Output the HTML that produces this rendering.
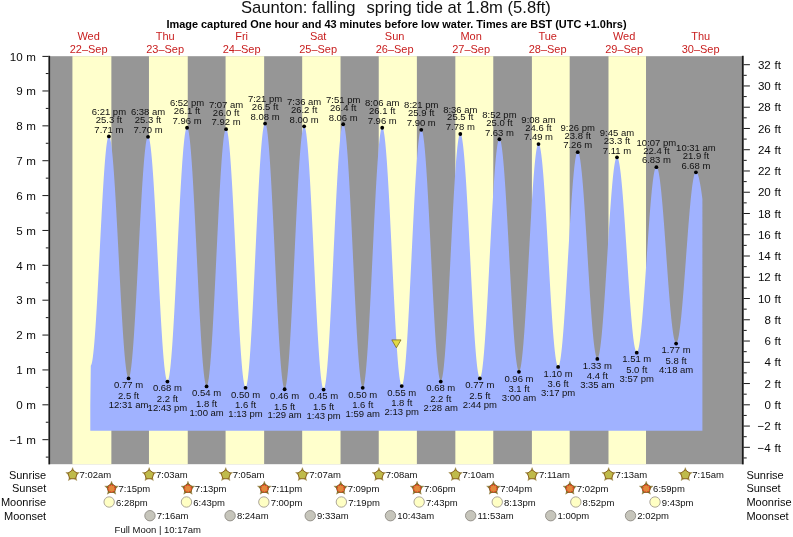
<!DOCTYPE html>
<html><head><meta charset="utf-8"><title>Saunton tide times</title>
<style>
html,body{margin:0;padding:0;background:#fff;}
body{width:793px;height:537px;overflow:hidden;font-family:"Liberation Sans",sans-serif;}
svg{display:block;opacity:0.999;will-change:transform;}
text{font-family:"Liberation Sans",sans-serif;fill:#0a0a0a;}
.ax{font-size:11.6px;word-spacing:0.4px;}
.rl{font-size:11px;}
.day{font-size:11px;fill:#c81e1e;}
.title{font-size:16.6px;fill:#111;}
.sub{font-size:10.95px;font-weight:bold;fill:#000;}
.lb{font-size:9.5px;fill:#111;}
</style></head><body>
<svg width="793" height="537" viewBox="0 0 793 537">
<rect x="50.0" y="56.2" width="692.0" height="408.0" fill="#969696"/>
<rect x="72.42" y="56.2" width="38.94" height="408.0" fill="#ffffcc"/>
<rect x="148.97" y="56.2" width="38.78" height="408.0" fill="#ffffcc"/>
<rect x="225.58" y="56.2" width="38.57" height="408.0" fill="#ffffcc"/>
<rect x="302.18" y="56.2" width="38.36" height="408.0" fill="#ffffcc"/>
<rect x="378.74" y="56.2" width="38.14" height="408.0" fill="#ffffcc"/>
<rect x="455.34" y="56.2" width="37.93" height="408.0" fill="#ffffcc"/>
<rect x="531.90" y="56.2" width="37.77" height="408.0" fill="#ffffcc"/>
<rect x="608.50" y="56.2" width="37.51" height="408.0" fill="#ffffcc"/>
<path d="M90.3,430.8 L90.30,404.80 L90.80,365.65 L91.30,364.83 L91.80,363.17 L92.30,360.69 L92.80,357.40 L93.30,353.33 L93.80,348.50 L94.30,342.96 L94.80,336.75 L95.30,329.90 L95.80,322.47 L96.30,314.52 L96.80,306.10 L97.30,297.27 L97.80,288.11 L98.30,278.66 L98.80,269.02 L99.30,259.24 L99.80,249.40 L100.30,239.57 L100.80,229.83 L101.30,220.24 L101.80,210.87 L102.30,201.79 L102.80,193.08 L103.30,184.79 L103.80,176.99 L104.30,169.72 L104.80,163.06 L105.30,157.04 L105.80,151.70 L106.30,147.10 L106.80,143.25 L107.30,140.20 L107.80,137.95 L108.30,136.54 L108.80,135.97 L109.30,136.21 L109.80,137.23 L110.30,139.01 L110.80,141.54 L111.30,144.81 L111.80,148.80 L112.30,153.48 L112.80,158.81 L113.30,164.78 L113.80,171.33 L114.30,178.43 L114.80,186.03 L115.30,194.08 L115.80,202.53 L116.30,211.33 L116.80,220.42 L117.30,229.75 L117.80,239.25 L118.30,248.86 L118.80,258.52 L119.30,268.18 L119.80,277.76 L120.30,287.21 L120.80,296.46 L121.30,305.47 L121.80,314.16 L122.30,322.49 L122.80,330.40 L123.30,337.84 L123.80,344.77 L124.30,351.13 L124.80,356.89 L125.30,362.02 L125.80,366.48 L126.30,370.23 L126.80,373.26 L127.30,375.56 L127.80,377.09 L128.30,377.86 L128.80,377.85 L129.30,377.06 L129.80,375.50 L130.30,373.16 L130.80,370.07 L131.30,366.25 L131.80,361.73 L132.30,356.52 L132.80,350.67 L133.30,344.21 L133.80,337.19 L134.30,329.65 L134.80,321.63 L135.30,313.20 L135.80,304.41 L136.30,295.31 L136.80,285.96 L137.30,276.42 L137.80,266.76 L138.30,257.03 L138.80,247.31 L139.30,237.65 L139.80,228.12 L140.30,218.77 L140.80,209.68 L141.30,200.89 L141.80,192.46 L142.30,184.46 L142.80,176.93 L143.30,169.91 L143.80,163.47 L144.30,157.63 L144.80,152.43 L145.30,147.92 L145.80,144.11 L146.30,141.04 L146.80,138.72 L147.30,137.17 L147.80,136.39 L148.30,136.41 L148.80,137.22 L149.30,138.83 L149.80,141.22 L150.30,144.39 L150.80,148.30 L151.30,152.94 L151.80,158.27 L152.30,164.27 L152.80,170.88 L153.30,178.06 L153.80,185.78 L154.30,193.97 L154.80,202.59 L155.30,211.58 L155.80,220.87 L156.30,230.42 L156.80,240.15 L157.30,250.00 L157.80,259.90 L158.30,269.80 L158.80,279.63 L159.30,289.32 L159.80,298.81 L160.30,308.03 L160.80,316.93 L161.30,325.45 L161.80,333.54 L162.30,341.13 L162.80,348.18 L163.30,354.64 L163.80,360.48 L164.30,365.64 L164.80,370.11 L165.30,373.84 L165.80,376.82 L166.30,379.03 L166.80,380.44 L167.30,381.06 L167.80,380.87 L168.30,379.87 L168.80,378.06 L169.30,375.46 L169.80,372.08 L170.30,367.94 L170.80,363.07 L171.30,357.50 L171.80,351.27 L172.30,344.42 L172.80,336.98 L173.30,329.02 L173.80,320.57 L174.30,311.70 L174.80,302.46 L175.30,292.91 L175.80,283.11 L176.30,273.13 L176.80,263.02 L177.30,252.86 L177.80,242.70 L178.30,232.62 L178.80,222.68 L179.30,212.94 L179.80,203.46 L180.30,194.31 L180.80,185.54 L181.30,177.22 L181.80,169.38 L182.30,162.09 L182.80,155.40 L183.30,149.33 L183.80,143.94 L184.30,139.25 L184.80,135.31 L185.30,132.12 L185.80,129.72 L186.30,128.12 L186.80,127.33 L187.30,127.35 L187.80,128.20 L188.30,129.89 L188.80,132.39 L189.30,135.69 L189.80,139.77 L190.30,144.61 L190.80,150.17 L191.30,156.41 L191.80,163.31 L192.30,170.80 L192.80,178.85 L193.30,187.40 L193.80,196.39 L194.30,205.78 L194.80,215.49 L195.30,225.47 L195.80,235.65 L196.30,245.96 L196.80,256.34 L197.30,266.73 L197.80,277.05 L198.30,287.23 L198.80,297.22 L199.30,306.95 L199.80,316.35 L200.30,325.37 L200.80,333.94 L201.30,342.01 L201.80,349.54 L202.30,356.46 L202.80,362.74 L203.30,368.33 L203.80,373.21 L204.30,377.33 L204.80,380.67 L205.30,383.21 L205.80,384.94 L206.30,385.83 L206.80,385.89 L207.30,385.12 L207.80,383.52 L208.30,381.10 L208.80,377.88 L209.30,373.87 L209.80,369.11 L210.30,363.63 L210.80,357.45 L211.30,350.62 L211.80,343.19 L212.30,335.20 L212.80,326.71 L213.30,317.76 L213.80,308.43 L214.30,298.76 L214.80,288.82 L215.30,278.68 L215.80,268.40 L216.30,258.04 L216.80,247.69 L217.30,237.39 L217.80,227.23 L218.30,217.26 L218.80,207.54 L219.30,198.16 L219.80,189.15 L220.30,180.59 L220.80,172.52 L221.30,165.01 L221.80,158.09 L222.30,151.82 L222.80,146.23 L223.30,141.36 L223.80,137.25 L224.30,133.91 L224.80,131.38 L225.30,129.66 L225.80,128.76 L226.30,128.71 L226.80,129.49 L227.30,131.12 L227.80,133.57 L228.30,136.83 L228.80,140.88 L229.30,145.70 L229.80,151.25 L230.30,157.50 L230.80,164.40 L231.30,171.91 L231.80,179.98 L232.30,188.57 L232.80,197.60 L233.30,207.03 L233.80,216.79 L234.30,226.82 L234.80,237.06 L235.30,247.43 L235.80,257.87 L236.30,268.31 L236.80,278.68 L237.30,288.92 L237.80,298.95 L238.30,308.72 L238.80,318.16 L239.30,327.21 L239.80,335.80 L240.30,343.89 L240.80,351.42 L241.30,358.33 L241.80,364.60 L242.30,370.16 L242.80,375.00 L243.30,379.07 L243.80,382.35 L244.30,384.83 L244.80,386.47 L245.30,387.28 L245.80,387.24 L246.30,386.35 L246.80,384.61 L247.30,382.04 L247.80,378.66 L248.30,374.47 L248.80,369.52 L249.30,363.82 L249.80,357.43 L250.30,350.38 L250.80,342.71 L251.30,334.48 L251.80,325.74 L252.30,316.54 L252.80,306.94 L253.30,297.02 L253.80,286.82 L254.30,276.42 L254.80,265.88 L255.30,255.27 L255.80,244.67 L256.30,234.13 L256.80,223.72 L257.30,213.52 L257.80,203.59 L258.30,193.99 L258.80,184.79 L259.30,176.04 L259.80,167.80 L260.30,160.13 L260.80,153.07 L261.30,146.67 L261.80,140.97 L262.30,136.00 L262.80,131.81 L263.30,128.41 L263.80,125.83 L264.30,124.08 L264.80,123.18 L265.30,123.13 L265.80,123.94 L266.30,125.60 L266.80,128.10 L267.30,131.43 L267.80,135.56 L268.30,140.46 L268.80,146.11 L269.30,152.47 L269.80,159.50 L270.30,167.14 L270.80,175.36 L271.30,184.10 L271.80,193.31 L272.30,202.91 L272.80,212.86 L273.30,223.09 L273.80,233.53 L274.30,244.11 L274.80,254.77 L275.30,265.44 L275.80,276.04 L276.30,286.52 L276.80,296.79 L277.30,306.81 L277.80,316.49 L278.30,325.79 L278.80,334.63 L279.30,342.97 L279.80,350.74 L280.30,357.90 L280.80,364.40 L281.30,370.21 L281.80,375.27 L282.30,379.57 L282.80,383.07 L283.30,385.75 L283.80,387.59 L284.30,388.58 L284.80,388.71 L285.30,387.99 L285.80,386.42 L286.30,384.02 L286.80,380.79 L287.30,376.76 L287.80,371.96 L288.30,366.41 L288.80,360.16 L289.30,353.24 L289.80,345.69 L290.30,337.57 L290.80,328.94 L291.30,319.83 L291.80,310.32 L292.30,300.47 L292.80,290.34 L293.30,279.99 L293.80,269.50 L294.30,258.92 L294.80,248.34 L295.30,237.81 L295.80,227.41 L296.30,217.21 L296.80,207.26 L297.30,197.64 L297.80,188.40 L298.30,179.62 L298.80,171.33 L299.30,163.61 L299.80,156.49 L300.30,150.03 L300.80,144.26 L301.30,139.23 L301.80,134.96 L302.30,131.48 L302.80,128.82 L303.30,127.00 L303.80,126.02 L304.30,125.89 L304.80,126.62 L305.30,128.19 L305.80,130.61 L306.30,133.84 L306.80,137.88 L307.30,142.69 L307.80,148.25 L308.30,154.52 L308.80,161.46 L309.30,169.01 L309.80,177.15 L310.30,185.80 L310.80,194.92 L311.30,204.44 L311.80,214.31 L312.30,224.46 L312.80,234.82 L313.30,245.33 L313.80,255.92 L314.30,266.51 L314.80,277.05 L315.30,287.47 L315.80,297.68 L316.30,307.64 L316.80,317.27 L317.30,326.52 L317.80,335.31 L318.30,343.60 L318.80,351.34 L319.30,358.46 L319.80,364.93 L320.30,370.70 L320.80,375.73 L321.30,380.00 L321.80,383.48 L322.30,386.13 L322.80,387.96 L323.30,388.93 L323.80,389.05 L324.30,388.32 L324.80,386.74 L325.30,384.31 L325.80,381.06 L326.30,377.01 L326.80,372.18 L327.30,366.60 L327.80,360.31 L328.30,353.35 L328.80,345.77 L329.30,337.60 L329.80,328.92 L330.30,319.77 L330.80,310.20 L331.30,300.29 L331.80,290.10 L332.30,279.69 L332.80,269.13 L333.30,258.49 L333.80,247.84 L334.30,237.24 L334.80,226.76 L335.30,216.48 L335.80,206.45 L336.30,196.75 L336.80,187.43 L337.30,178.56 L337.80,170.19 L338.30,162.37 L338.80,155.17 L339.30,148.61 L339.80,142.75 L340.30,137.63 L340.80,133.27 L341.30,129.71 L341.80,126.96 L342.30,125.05 L342.80,123.98 L343.30,123.78 L343.80,124.42 L344.30,125.91 L344.80,128.23 L345.30,131.38 L345.80,135.33 L346.30,140.05 L346.80,145.52 L347.30,151.70 L347.80,158.55 L348.30,166.03 L348.80,174.08 L349.30,182.66 L349.80,191.71 L350.30,201.17 L350.80,210.98 L351.30,221.08 L351.80,231.40 L352.30,241.88 L352.80,252.45 L353.30,263.03 L353.80,273.57 L354.30,283.99 L354.80,294.23 L355.30,304.22 L355.80,313.89 L356.30,323.19 L356.80,332.05 L357.30,340.42 L357.80,348.24 L358.30,355.47 L358.80,362.04 L359.30,367.93 L359.80,373.10 L360.30,377.51 L360.80,381.13 L361.30,383.94 L361.80,385.92 L362.30,387.06 L362.80,387.35 L363.30,386.80 L363.80,385.41 L364.30,383.18 L364.80,380.14 L365.30,376.30 L365.80,371.69 L366.30,366.34 L366.80,360.28 L367.30,353.55 L367.80,346.20 L368.30,338.27 L368.80,329.82 L369.30,320.89 L369.80,311.55 L370.30,301.86 L370.80,291.88 L371.30,281.68 L371.80,271.32 L372.30,260.87 L372.80,250.39 L373.30,239.96 L373.80,229.65 L374.30,219.51 L374.80,209.61 L375.30,200.03 L375.80,190.82 L376.30,182.04 L376.80,173.74 L377.30,165.99 L377.80,158.83 L378.30,152.31 L378.80,146.48 L379.30,141.36 L379.80,136.99 L380.30,133.40 L380.80,130.62 L381.30,128.66 L381.80,127.53 L382.30,127.25 L382.80,127.80 L383.30,129.19 L383.80,131.41 L384.30,134.43 L384.80,138.25 L385.30,142.83 L385.80,148.15 L386.30,154.18 L386.80,160.87 L387.30,168.17 L387.80,176.05 L388.30,184.45 L388.80,193.32 L389.30,202.60 L389.80,212.22 L390.30,222.14 L390.80,232.27 L391.30,242.57 L391.80,252.95 L392.30,263.35 L392.80,273.71 L393.30,283.96 L393.80,294.03 L394.30,303.86 L394.80,313.37 L395.30,322.52 L395.80,331.24 L396.30,339.47 L396.80,347.17 L397.30,354.28 L397.80,360.75 L398.30,366.54 L398.80,371.62 L399.30,375.96 L399.80,379.52 L400.30,382.27 L400.80,384.22 L401.30,385.33 L401.80,385.61 L402.30,385.06 L402.80,383.68 L403.30,381.49 L403.80,378.50 L404.30,374.73 L404.80,370.20 L405.30,364.95 L405.80,359.00 L406.30,352.39 L406.80,345.18 L407.30,337.39 L407.80,329.10 L408.30,320.34 L408.80,311.17 L409.30,301.66 L409.80,291.86 L410.30,281.84 L410.80,271.67 L411.30,261.40 L411.80,251.11 L412.30,240.85 L412.80,230.71 L413.30,220.74 L413.80,211.00 L414.30,201.57 L414.80,192.49 L415.30,183.84 L415.80,175.66 L416.30,168.01 L416.80,160.93 L417.30,154.48 L417.80,148.69 L418.30,143.61 L418.80,139.25 L419.30,135.67 L419.80,132.86 L420.30,130.87 L420.80,129.69 L421.30,129.33 L421.80,129.79 L422.30,131.07 L422.80,133.15 L423.30,136.03 L423.80,139.68 L424.30,144.08 L424.80,149.19 L425.30,155.00 L425.80,161.46 L426.30,168.52 L426.80,176.15 L427.30,184.29 L427.80,192.89 L428.30,201.89 L428.80,211.25 L429.30,220.88 L429.80,230.74 L430.30,240.76 L430.80,250.87 L431.30,261.01 L431.80,271.11 L432.30,281.10 L432.80,290.93 L433.30,300.53 L433.80,309.84 L434.30,318.79 L434.80,327.32 L435.30,335.39 L435.80,342.94 L436.30,349.92 L436.80,356.29 L437.30,362.00 L437.80,367.02 L438.30,371.31 L438.80,374.85 L439.30,377.61 L439.80,379.58 L440.30,380.74 L440.80,381.09 L441.30,380.63 L441.80,379.37 L442.30,377.33 L442.80,374.51 L443.30,370.94 L443.80,366.63 L444.30,361.62 L444.80,355.94 L445.30,349.61 L445.80,342.70 L446.30,335.23 L446.80,327.26 L447.30,318.83 L447.80,310.02 L448.30,300.86 L448.80,291.42 L449.30,281.75 L449.80,271.94 L450.30,262.02 L450.80,252.08 L451.30,242.17 L451.80,232.36 L452.30,222.71 L452.80,213.28 L453.30,204.13 L453.80,195.33 L454.30,186.93 L454.80,178.99 L455.30,171.54 L455.80,164.66 L456.30,158.36 L456.80,152.71 L457.30,147.74 L457.80,143.46 L458.30,139.93 L458.80,137.15 L459.30,135.15 L459.80,133.93 L460.30,133.51 L460.80,133.89 L461.30,135.05 L461.80,136.99 L462.30,139.69 L462.80,143.15 L463.30,147.33 L463.80,152.21 L464.30,157.76 L464.80,163.94 L465.30,170.71 L465.80,178.03 L466.30,185.85 L466.80,194.13 L467.30,202.80 L467.80,211.81 L468.30,221.10 L468.80,230.62 L469.30,240.31 L469.80,250.09 L470.30,259.90 L470.80,269.69 L471.30,279.39 L471.80,288.94 L472.30,298.27 L472.80,307.33 L473.30,316.06 L473.80,324.40 L474.30,332.29 L474.80,339.69 L475.30,346.55 L475.80,352.82 L476.30,358.46 L476.80,363.45 L477.30,367.73 L477.80,371.30 L478.30,374.12 L478.80,376.17 L479.30,377.45 L479.80,377.94 L480.30,377.65 L480.80,376.60 L481.30,374.77 L481.80,372.20 L482.30,368.89 L482.80,364.87 L483.30,360.16 L483.80,354.80 L484.30,348.81 L484.80,342.24 L485.30,335.12 L485.80,327.52 L486.30,319.46 L486.80,311.01 L487.30,302.22 L487.80,293.15 L488.30,283.86 L488.80,274.39 L489.30,264.83 L489.80,255.22 L490.30,245.64 L490.80,236.13 L491.30,226.77 L491.80,217.61 L492.30,208.72 L492.80,200.15 L493.30,191.95 L493.80,184.18 L494.30,176.89 L494.80,170.12 L495.30,163.92 L495.80,158.34 L496.30,153.39 L496.80,149.13 L497.30,145.57 L497.80,142.73 L498.30,140.65 L498.80,139.32 L499.30,138.76 L499.80,138.97 L500.30,139.92 L500.80,141.62 L501.30,144.05 L501.80,147.20 L502.30,151.04 L502.80,155.55 L503.30,160.71 L503.80,166.47 L504.30,172.80 L504.80,179.67 L505.30,187.02 L505.80,194.81 L506.30,202.99 L506.80,211.50 L507.30,220.30 L507.80,229.32 L508.30,238.50 L508.80,247.80 L509.30,257.14 L509.80,266.46 L510.30,275.71 L510.80,284.83 L511.30,293.76 L511.80,302.43 L512.30,310.80 L512.80,318.81 L513.30,326.41 L513.80,333.55 L514.30,340.18 L514.80,346.26 L515.30,351.76 L515.80,356.63 L516.30,360.84 L516.80,364.37 L517.30,367.20 L517.80,369.30 L518.30,370.67 L518.80,371.29 L519.30,371.16 L519.80,370.30 L520.30,368.71 L520.80,366.40 L521.30,363.39 L521.80,359.69 L522.30,355.34 L522.80,350.35 L523.30,344.77 L523.80,338.62 L524.30,331.95 L524.80,324.80 L525.30,317.21 L525.80,309.24 L526.30,300.94 L526.80,292.35 L527.30,283.54 L527.80,274.56 L528.30,265.47 L528.80,256.33 L529.30,247.20 L529.80,238.13 L530.30,229.19 L530.80,220.43 L531.30,211.91 L531.80,203.68 L532.30,195.80 L532.80,188.32 L533.30,181.28 L533.80,174.74 L534.30,168.73 L534.80,163.29 L535.30,158.46 L535.80,154.27 L536.30,150.74 L536.80,147.91 L537.30,145.78 L537.80,144.37 L538.30,143.69 L538.80,143.74 L539.30,144.51 L539.80,145.99 L540.30,148.16 L540.80,151.03 L541.30,154.56 L541.80,158.73 L542.30,163.52 L542.80,168.90 L543.30,174.84 L543.80,181.29 L544.30,188.21 L544.80,195.56 L545.30,203.29 L545.80,211.35 L546.30,219.69 L546.80,228.27 L547.30,237.01 L547.80,245.87 L548.30,254.78 L548.80,263.70 L549.30,272.56 L549.80,281.31 L550.30,289.90 L550.80,298.25 L551.30,306.33 L551.80,314.09 L552.30,321.46 L552.80,328.40 L553.30,334.88 L553.80,340.84 L554.30,346.25 L554.80,351.08 L555.30,355.29 L555.80,358.86 L556.30,361.76 L556.80,363.98 L557.30,365.49 L557.80,366.30 L558.30,366.40 L558.80,365.80 L559.30,364.51 L559.80,362.55 L560.30,359.93 L560.80,356.66 L561.30,352.76 L561.80,348.26 L562.30,343.19 L562.80,337.57 L563.30,331.46 L563.80,324.88 L564.30,317.87 L564.80,310.49 L565.30,302.78 L565.80,294.79 L566.30,286.57 L566.80,278.17 L567.30,269.65 L567.80,261.06 L568.30,252.46 L568.80,243.90 L569.30,235.44 L569.80,227.13 L570.30,219.02 L570.80,211.17 L571.30,203.63 L571.80,196.44 L572.30,189.66 L572.80,183.32 L573.30,177.47 L573.80,172.14 L574.30,167.36 L574.80,163.18 L575.30,159.61 L575.80,156.68 L576.30,154.41 L576.80,152.81 L577.30,151.89 L577.80,151.65 L578.30,152.09 L578.80,153.19 L579.30,154.95 L579.80,157.34 L580.30,160.36 L580.80,163.99 L581.30,168.21 L581.80,172.98 L582.30,178.28 L582.80,184.07 L583.30,190.32 L583.80,196.98 L584.30,204.01 L584.80,211.37 L585.30,219.02 L585.80,226.89 L586.30,234.94 L586.80,243.12 L587.30,251.38 L587.80,259.67 L588.30,267.92 L588.80,276.09 L589.30,284.12 L589.80,291.97 L590.30,299.58 L590.80,306.91 L591.30,313.90 L591.80,320.51 L592.30,326.71 L592.80,332.44 L593.30,337.68 L593.80,342.39 L594.30,346.53 L594.80,350.09 L595.30,353.04 L595.80,355.36 L596.30,357.04 L596.80,358.06 L597.30,358.42 L597.80,358.13 L598.30,357.19 L598.80,355.62 L599.30,353.43 L599.80,350.62 L600.30,347.22 L600.80,343.25 L601.30,338.73 L601.80,333.69 L602.30,328.17 L602.80,322.20 L603.30,315.82 L603.80,309.06 L604.30,301.98 L604.80,294.62 L605.30,287.01 L605.80,279.22 L606.30,271.30 L606.80,263.28 L607.30,255.23 L607.80,247.20 L608.30,239.23 L608.80,231.38 L609.30,223.70 L609.80,216.23 L610.30,209.03 L610.80,202.14 L611.30,195.60 L611.80,189.46 L612.30,183.75 L612.80,178.52 L613.30,173.79 L613.80,169.60 L614.30,165.97 L614.80,162.92 L615.30,160.48 L615.80,158.66 L616.30,157.47 L616.80,156.92 L617.30,157.00 L617.80,157.71 L618.30,159.02 L618.80,160.94 L619.30,163.45 L619.80,166.53 L620.30,170.17 L620.80,174.35 L621.30,179.03 L621.80,184.18 L622.30,189.78 L622.80,195.79 L623.30,202.17 L623.80,208.88 L624.30,215.87 L624.80,223.11 L625.30,230.55 L625.80,238.15 L626.30,245.84 L626.80,253.59 L627.30,261.34 L627.80,269.06 L628.30,276.68 L628.80,284.16 L629.30,291.45 L629.80,298.51 L630.30,305.29 L630.80,311.75 L631.30,317.85 L631.80,323.55 L632.30,328.81 L632.80,333.61 L633.30,337.90 L633.80,341.67 L634.30,344.89 L634.80,347.54 L635.30,349.60 L635.80,351.06 L636.30,351.91 L636.80,352.14 L637.30,351.78 L637.80,350.82 L638.30,349.28 L638.80,347.17 L639.30,344.49 L639.80,341.28 L640.30,337.54 L640.80,333.30 L641.30,328.59 L641.80,323.44 L642.30,317.88 L642.80,311.94 L643.30,305.68 L643.80,299.11 L644.30,292.29 L644.80,285.27 L645.30,278.07 L645.80,270.76 L646.30,263.37 L646.80,255.96 L647.30,248.58 L647.80,241.26 L648.30,234.05 L648.80,227.01 L649.30,220.18 L649.80,213.59 L650.30,207.30 L650.80,201.34 L651.30,195.75 L651.80,190.57 L652.30,185.82 L652.80,181.55 L653.30,177.77 L653.80,174.51 L654.30,171.80 L654.80,169.64 L655.30,168.06 L655.80,167.06 L656.30,166.65 L656.80,166.82 L657.30,167.55 L657.80,168.84 L658.30,170.67 L658.80,173.03 L659.30,175.92 L659.80,179.30 L660.30,183.17 L660.80,187.49 L661.30,192.24 L661.80,197.38 L662.30,202.89 L662.80,208.73 L663.30,214.87 L663.80,221.26 L664.30,227.86 L664.80,234.63 L665.30,241.53 L665.80,248.51 L666.30,255.54 L666.80,262.56 L667.30,269.53 L667.80,276.41 L668.30,283.16 L668.80,289.72 L669.30,296.06 L669.80,302.14 L670.30,307.92 L670.80,313.36 L671.30,318.43 L671.80,323.10 L672.30,327.34 L672.80,331.11 L673.30,334.40 L673.80,337.19 L674.30,339.45 L674.80,341.17 L675.30,342.35 L675.80,342.98 L676.30,343.04 L676.80,342.56 L677.30,341.55 L677.80,340.01 L678.30,337.95 L678.80,335.39 L679.30,332.34 L679.80,328.82 L680.30,324.85 L680.80,320.45 L681.30,315.66 L681.80,310.51 L682.30,305.02 L682.80,299.23 L683.30,293.18 L683.80,286.91 L684.30,280.45 L684.80,273.85 L685.30,267.14 L685.80,260.38 L686.30,253.59 L686.80,246.84 L687.30,240.14 L687.80,233.56 L688.30,227.12 L688.80,220.88 L689.30,214.87 L689.80,209.12 L690.30,203.68 L690.80,198.58 L691.30,193.84 L691.80,189.51 L692.30,185.60 L692.80,182.14 L693.30,179.16 L693.80,176.67 L694.30,174.68 L694.80,173.22 L695.30,172.28 L695.80,171.88 L696.30,171.97 L696.80,172.41 L697.30,173.20 L697.80,174.33 L698.30,175.80 L698.80,177.60 L699.30,179.71 L699.80,182.13 L700.30,184.83 L700.80,187.81 L701.30,191.04 L701.80,194.50 L702.30,198.18 L702.40,198.94 L702.4,430.8 Z" fill="#a0b2ff"/>
<rect x="48.4" y="55.8" width="1.7" height="408.6" fill="#1a1a1a"/>
<rect x="741.9" y="55.8" width="1.8" height="408.6" fill="#1a1a1a"/>
<rect x="42.4" y="439.17" width="6.2" height="1" fill="#1a1a1a"/>
<text x="35.9" y="443.87" class="ax" text-anchor="end">−1 m</text>
<rect x="42.4" y="404.30" width="6.2" height="1" fill="#1a1a1a"/>
<text x="35.9" y="409.00" class="ax" text-anchor="end">0 m</text>
<rect x="42.4" y="369.43" width="6.2" height="1" fill="#1a1a1a"/>
<text x="35.9" y="374.13" class="ax" text-anchor="end">1 m</text>
<rect x="42.4" y="334.56" width="6.2" height="1" fill="#1a1a1a"/>
<text x="35.9" y="339.26" class="ax" text-anchor="end">2 m</text>
<rect x="42.4" y="299.69" width="6.2" height="1" fill="#1a1a1a"/>
<text x="35.9" y="304.39" class="ax" text-anchor="end">3 m</text>
<rect x="42.4" y="264.82" width="6.2" height="1" fill="#1a1a1a"/>
<text x="35.9" y="269.52" class="ax" text-anchor="end">4 m</text>
<rect x="42.4" y="229.95" width="6.2" height="1" fill="#1a1a1a"/>
<text x="35.9" y="234.65" class="ax" text-anchor="end">5 m</text>
<rect x="42.4" y="195.08" width="6.2" height="1" fill="#1a1a1a"/>
<text x="35.9" y="199.78" class="ax" text-anchor="end">6 m</text>
<rect x="42.4" y="160.21" width="6.2" height="1" fill="#1a1a1a"/>
<text x="35.9" y="164.91" class="ax" text-anchor="end">7 m</text>
<rect x="42.4" y="125.34" width="6.2" height="1" fill="#1a1a1a"/>
<text x="35.9" y="130.04" class="ax" text-anchor="end">8 m</text>
<rect x="42.4" y="90.47" width="6.2" height="1" fill="#1a1a1a"/>
<text x="35.9" y="95.17" class="ax" text-anchor="end">9 m</text>
<rect x="42.4" y="55.90" width="6.2" height="1" fill="#1a1a1a"/>
<text x="35.9" y="60.60" class="ax" text-anchor="end">10 m</text>
<rect x="45.8" y="456.61" width="2.8" height="1" fill="#1a1a1a"/>
<rect x="45.8" y="421.74" width="2.8" height="1" fill="#1a1a1a"/>
<rect x="45.8" y="386.87" width="2.8" height="1" fill="#1a1a1a"/>
<rect x="45.8" y="352.00" width="2.8" height="1" fill="#1a1a1a"/>
<rect x="45.8" y="317.12" width="2.8" height="1" fill="#1a1a1a"/>
<rect x="45.8" y="282.25" width="2.8" height="1" fill="#1a1a1a"/>
<rect x="45.8" y="247.39" width="2.8" height="1" fill="#1a1a1a"/>
<rect x="45.8" y="212.52" width="2.8" height="1" fill="#1a1a1a"/>
<rect x="45.8" y="177.65" width="2.8" height="1" fill="#1a1a1a"/>
<rect x="45.8" y="142.78" width="2.8" height="1" fill="#1a1a1a"/>
<rect x="45.8" y="107.91" width="2.8" height="1" fill="#1a1a1a"/>
<rect x="45.8" y="73.04" width="2.8" height="1" fill="#1a1a1a"/>
<rect x="743.5" y="457.44" width="3.2" height="1" fill="#1a1a1a"/>
<rect x="743.5" y="446.81" width="6.4" height="1" fill="#1a1a1a"/>
<text x="780.9" y="451.51" class="ax" text-anchor="end">−4 ft</text>
<rect x="743.5" y="436.19" width="3.2" height="1" fill="#1a1a1a"/>
<rect x="743.5" y="425.56" width="6.4" height="1" fill="#1a1a1a"/>
<text x="780.9" y="430.26" class="ax" text-anchor="end">−2 ft</text>
<rect x="743.5" y="414.93" width="3.2" height="1" fill="#1a1a1a"/>
<rect x="743.5" y="404.30" width="6.4" height="1" fill="#1a1a1a"/>
<text x="780.9" y="409.00" class="ax" text-anchor="end">0 ft</text>
<rect x="743.5" y="393.67" width="3.2" height="1" fill="#1a1a1a"/>
<rect x="743.5" y="383.04" width="6.4" height="1" fill="#1a1a1a"/>
<text x="780.9" y="387.74" class="ax" text-anchor="end">2 ft</text>
<rect x="743.5" y="372.41" width="3.2" height="1" fill="#1a1a1a"/>
<rect x="743.5" y="361.79" width="6.4" height="1" fill="#1a1a1a"/>
<text x="780.9" y="366.49" class="ax" text-anchor="end">4 ft</text>
<rect x="743.5" y="351.16" width="3.2" height="1" fill="#1a1a1a"/>
<rect x="743.5" y="340.53" width="6.4" height="1" fill="#1a1a1a"/>
<text x="780.9" y="345.23" class="ax" text-anchor="end">6 ft</text>
<rect x="743.5" y="329.90" width="3.2" height="1" fill="#1a1a1a"/>
<rect x="743.5" y="319.27" width="6.4" height="1" fill="#1a1a1a"/>
<text x="780.9" y="323.97" class="ax" text-anchor="end">8 ft</text>
<rect x="743.5" y="308.64" width="3.2" height="1" fill="#1a1a1a"/>
<rect x="743.5" y="298.02" width="6.4" height="1" fill="#1a1a1a"/>
<text x="780.9" y="302.72" class="ax" text-anchor="end">10 ft</text>
<rect x="743.5" y="287.39" width="3.2" height="1" fill="#1a1a1a"/>
<rect x="743.5" y="276.76" width="6.4" height="1" fill="#1a1a1a"/>
<text x="780.9" y="281.46" class="ax" text-anchor="end">12 ft</text>
<rect x="743.5" y="266.13" width="3.2" height="1" fill="#1a1a1a"/>
<rect x="743.5" y="255.50" width="6.4" height="1" fill="#1a1a1a"/>
<text x="780.9" y="260.20" class="ax" text-anchor="end">14 ft</text>
<rect x="743.5" y="244.87" width="3.2" height="1" fill="#1a1a1a"/>
<rect x="743.5" y="234.25" width="6.4" height="1" fill="#1a1a1a"/>
<text x="780.9" y="238.95" class="ax" text-anchor="end">16 ft</text>
<rect x="743.5" y="223.62" width="3.2" height="1" fill="#1a1a1a"/>
<rect x="743.5" y="212.99" width="6.4" height="1" fill="#1a1a1a"/>
<text x="780.9" y="217.69" class="ax" text-anchor="end">18 ft</text>
<rect x="743.5" y="202.36" width="3.2" height="1" fill="#1a1a1a"/>
<rect x="743.5" y="191.73" width="6.4" height="1" fill="#1a1a1a"/>
<text x="780.9" y="196.43" class="ax" text-anchor="end">20 ft</text>
<rect x="743.5" y="181.10" width="3.2" height="1" fill="#1a1a1a"/>
<rect x="743.5" y="170.48" width="6.4" height="1" fill="#1a1a1a"/>
<text x="780.9" y="175.18" class="ax" text-anchor="end">22 ft</text>
<rect x="743.5" y="159.85" width="3.2" height="1" fill="#1a1a1a"/>
<rect x="743.5" y="149.22" width="6.4" height="1" fill="#1a1a1a"/>
<text x="780.9" y="153.92" class="ax" text-anchor="end">24 ft</text>
<rect x="743.5" y="138.59" width="3.2" height="1" fill="#1a1a1a"/>
<rect x="743.5" y="127.96" width="6.4" height="1" fill="#1a1a1a"/>
<text x="780.9" y="132.66" class="ax" text-anchor="end">26 ft</text>
<rect x="743.5" y="117.33" width="3.2" height="1" fill="#1a1a1a"/>
<rect x="743.5" y="106.71" width="6.4" height="1" fill="#1a1a1a"/>
<text x="780.9" y="111.41" class="ax" text-anchor="end">28 ft</text>
<rect x="743.5" y="96.08" width="3.2" height="1" fill="#1a1a1a"/>
<rect x="743.5" y="85.45" width="6.4" height="1" fill="#1a1a1a"/>
<text x="780.9" y="90.15" class="ax" text-anchor="end">30 ft</text>
<rect x="743.5" y="74.82" width="3.2" height="1" fill="#1a1a1a"/>
<rect x="743.5" y="64.19" width="6.4" height="1" fill="#1a1a1a"/>
<text x="780.9" y="68.89" class="ax" text-anchor="end">32 ft</text>
<text x="88.65" y="39.5" class="day" text-anchor="middle">Wed</text>
<text x="88.65" y="53.2" class="day" text-anchor="middle">22–Sep</text>
<text x="165.15" y="39.5" class="day" text-anchor="middle">Thu</text>
<text x="165.15" y="53.2" class="day" text-anchor="middle">23–Sep</text>
<text x="241.65" y="39.5" class="day" text-anchor="middle">Fri</text>
<text x="241.65" y="53.2" class="day" text-anchor="middle">24–Sep</text>
<text x="318.15" y="39.5" class="day" text-anchor="middle">Sat</text>
<text x="318.15" y="53.2" class="day" text-anchor="middle">25–Sep</text>
<text x="394.65" y="39.5" class="day" text-anchor="middle">Sun</text>
<text x="394.65" y="53.2" class="day" text-anchor="middle">26–Sep</text>
<text x="471.15" y="39.5" class="day" text-anchor="middle">Mon</text>
<text x="471.15" y="53.2" class="day" text-anchor="middle">27–Sep</text>
<text x="547.65" y="39.5" class="day" text-anchor="middle">Tue</text>
<text x="547.65" y="53.2" class="day" text-anchor="middle">28–Sep</text>
<text x="624.15" y="39.5" class="day" text-anchor="middle">Wed</text>
<text x="624.15" y="53.2" class="day" text-anchor="middle">29–Sep</text>
<text x="700.65" y="39.5" class="day" text-anchor="middle">Thu</text>
<text x="700.65" y="53.2" class="day" text-anchor="middle">30–Sep</text>
<text x="241.0" y="13.3" class="title">Saunton: falling</text>
<text x="550.9" y="13.3" class="title" text-anchor="end">spring tide at 1.8m (5.8ft)</text>
<text x="396.5" y="27.7" class="sub" text-anchor="middle">Image captured One hour and 43 minutes before low water. Times are BST (UTC +1.0hrs)</text>
<circle cx="108.89" cy="136.45" r="1.9" fill="#000"/>
<text x="108.89" y="115.05" class="lb" text-anchor="middle">6:21 pm</text>
<text x="108.89" y="122.85" class="lb" text-anchor="middle">25.3 ft</text>
<text x="108.89" y="132.75" class="lb" text-anchor="middle">7.71 m</text>
<circle cx="128.55" cy="378.45" r="1.9" fill="#000"/>
<text x="128.55" y="388.25" class="lb" text-anchor="middle">0.77 m</text>
<text x="128.55" y="398.75" class="lb" text-anchor="middle">2.5 ft</text>
<text x="128.55" y="407.65" class="lb" text-anchor="middle">12:31 am</text>
<circle cx="148.04" cy="136.80" r="1.9" fill="#000"/>
<text x="148.04" y="115.40" class="lb" text-anchor="middle">6:38 am</text>
<text x="148.04" y="123.20" class="lb" text-anchor="middle">25.3 ft</text>
<text x="148.04" y="133.10" class="lb" text-anchor="middle">7.70 m</text>
<circle cx="167.43" cy="381.59" r="1.9" fill="#000"/>
<text x="167.43" y="391.39" class="lb" text-anchor="middle">0.68 m</text>
<text x="167.43" y="401.89" class="lb" text-anchor="middle">2.2 ft</text>
<text x="167.43" y="410.79" class="lb" text-anchor="middle">12:43 pm</text>
<circle cx="187.04" cy="127.73" r="1.9" fill="#000"/>
<text x="187.04" y="106.33" class="lb" text-anchor="middle">6:52 pm</text>
<text x="187.04" y="114.13" class="lb" text-anchor="middle">26.1 ft</text>
<text x="187.04" y="124.03" class="lb" text-anchor="middle">7.96 m</text>
<circle cx="206.59" cy="386.47" r="1.9" fill="#000"/>
<text x="206.59" y="396.27" class="lb" text-anchor="middle">0.54 m</text>
<text x="206.59" y="406.77" class="lb" text-anchor="middle">1.8 ft</text>
<text x="206.59" y="415.67" class="lb" text-anchor="middle">1:00 am</text>
<circle cx="226.08" cy="129.13" r="1.9" fill="#000"/>
<text x="226.08" y="107.73" class="lb" text-anchor="middle">7:07 am</text>
<text x="226.08" y="115.53" class="lb" text-anchor="middle">26.0 ft</text>
<text x="226.08" y="125.43" class="lb" text-anchor="middle">7.92 m</text>
<circle cx="245.53" cy="387.87" r="1.9" fill="#000"/>
<text x="245.53" y="397.67" class="lb" text-anchor="middle">0.50 m</text>
<text x="245.53" y="408.17" class="lb" text-anchor="middle">1.6 ft</text>
<text x="245.53" y="417.06" class="lb" text-anchor="middle">1:13 pm</text>
<circle cx="265.08" cy="123.55" r="1.9" fill="#000"/>
<text x="265.08" y="102.15" class="lb" text-anchor="middle">7:21 pm</text>
<text x="265.08" y="109.95" class="lb" text-anchor="middle">26.5 ft</text>
<text x="265.08" y="119.85" class="lb" text-anchor="middle">8.08 m</text>
<circle cx="284.63" cy="389.26" r="1.9" fill="#000"/>
<text x="284.63" y="399.06" class="lb" text-anchor="middle">0.46 m</text>
<text x="284.63" y="409.56" class="lb" text-anchor="middle">1.5 ft</text>
<text x="284.63" y="418.46" class="lb" text-anchor="middle">1:29 am</text>
<circle cx="304.12" cy="126.34" r="1.9" fill="#000"/>
<text x="304.12" y="104.94" class="lb" text-anchor="middle">7:36 am</text>
<text x="304.12" y="112.74" class="lb" text-anchor="middle">26.2 ft</text>
<text x="304.12" y="122.64" class="lb" text-anchor="middle">8.00 m</text>
<circle cx="323.62" cy="389.61" r="1.9" fill="#000"/>
<text x="323.62" y="399.41" class="lb" text-anchor="middle">0.45 m</text>
<text x="323.62" y="409.91" class="lb" text-anchor="middle">1.5 ft</text>
<text x="323.62" y="418.81" class="lb" text-anchor="middle">1:43 pm</text>
<circle cx="343.17" cy="124.25" r="1.9" fill="#000"/>
<text x="343.17" y="102.85" class="lb" text-anchor="middle">7:51 pm</text>
<text x="343.17" y="110.65" class="lb" text-anchor="middle">26.4 ft</text>
<text x="343.17" y="120.55" class="lb" text-anchor="middle">8.06 m</text>
<circle cx="362.72" cy="387.87" r="1.9" fill="#000"/>
<text x="362.72" y="397.67" class="lb" text-anchor="middle">0.50 m</text>
<text x="362.72" y="408.17" class="lb" text-anchor="middle">1.6 ft</text>
<text x="362.72" y="417.06" class="lb" text-anchor="middle">1:59 am</text>
<circle cx="382.22" cy="127.73" r="1.9" fill="#000"/>
<text x="382.22" y="106.33" class="lb" text-anchor="middle">8:06 am</text>
<text x="382.22" y="114.13" class="lb" text-anchor="middle">26.1 ft</text>
<text x="382.22" y="124.03" class="lb" text-anchor="middle">7.96 m</text>
<circle cx="401.72" cy="386.12" r="1.9" fill="#000"/>
<text x="401.72" y="395.92" class="lb" text-anchor="middle">0.55 m</text>
<text x="401.72" y="406.42" class="lb" text-anchor="middle">1.8 ft</text>
<text x="401.72" y="415.32" class="lb" text-anchor="middle">2:13 pm</text>
<circle cx="421.27" cy="129.83" r="1.9" fill="#000"/>
<text x="421.27" y="108.43" class="lb" text-anchor="middle">8:21 pm</text>
<text x="421.27" y="116.23" class="lb" text-anchor="middle">25.9 ft</text>
<text x="421.27" y="126.13" class="lb" text-anchor="middle">7.90 m</text>
<circle cx="440.76" cy="381.59" r="1.9" fill="#000"/>
<text x="440.76" y="391.39" class="lb" text-anchor="middle">0.68 m</text>
<text x="440.76" y="401.89" class="lb" text-anchor="middle">2.2 ft</text>
<text x="440.76" y="410.79" class="lb" text-anchor="middle">2:28 am</text>
<circle cx="460.31" cy="134.01" r="1.9" fill="#000"/>
<text x="460.31" y="112.61" class="lb" text-anchor="middle">8:36 am</text>
<text x="460.31" y="120.41" class="lb" text-anchor="middle">25.5 ft</text>
<text x="460.31" y="130.31" class="lb" text-anchor="middle">7.78 m</text>
<circle cx="479.86" cy="378.45" r="1.9" fill="#000"/>
<text x="479.86" y="388.25" class="lb" text-anchor="middle">0.77 m</text>
<text x="479.86" y="398.75" class="lb" text-anchor="middle">2.5 ft</text>
<text x="479.86" y="407.65" class="lb" text-anchor="middle">2:44 pm</text>
<circle cx="499.41" cy="139.24" r="1.9" fill="#000"/>
<text x="499.41" y="117.84" class="lb" text-anchor="middle">8:52 pm</text>
<text x="499.41" y="125.64" class="lb" text-anchor="middle">25.0 ft</text>
<text x="499.41" y="135.54" class="lb" text-anchor="middle">7.63 m</text>
<circle cx="518.96" cy="371.82" r="1.9" fill="#000"/>
<text x="518.96" y="381.62" class="lb" text-anchor="middle">0.96 m</text>
<text x="518.96" y="392.12" class="lb" text-anchor="middle">3.1 ft</text>
<text x="518.96" y="401.02" class="lb" text-anchor="middle">3:00 am</text>
<circle cx="538.51" cy="144.12" r="1.9" fill="#000"/>
<text x="538.51" y="122.72" class="lb" text-anchor="middle">9:08 am</text>
<text x="538.51" y="130.52" class="lb" text-anchor="middle">24.6 ft</text>
<text x="538.51" y="140.42" class="lb" text-anchor="middle">7.49 m</text>
<circle cx="558.12" cy="366.94" r="1.9" fill="#000"/>
<text x="558.12" y="376.74" class="lb" text-anchor="middle">1.10 m</text>
<text x="558.12" y="387.24" class="lb" text-anchor="middle">3.6 ft</text>
<text x="558.12" y="396.14" class="lb" text-anchor="middle">3:17 pm</text>
<circle cx="577.72" cy="152.14" r="1.9" fill="#000"/>
<text x="577.72" y="130.74" class="lb" text-anchor="middle">9:26 pm</text>
<text x="577.72" y="138.54" class="lb" text-anchor="middle">23.8 ft</text>
<text x="577.72" y="148.44" class="lb" text-anchor="middle">7.26 m</text>
<circle cx="597.32" cy="358.92" r="1.9" fill="#000"/>
<text x="597.32" y="368.72" class="lb" text-anchor="middle">1.33 m</text>
<text x="597.32" y="379.22" class="lb" text-anchor="middle">4.4 ft</text>
<text x="597.32" y="388.12" class="lb" text-anchor="middle">3:35 am</text>
<circle cx="616.98" cy="157.37" r="1.9" fill="#000"/>
<text x="616.98" y="135.97" class="lb" text-anchor="middle">9:45 am</text>
<text x="616.98" y="143.77" class="lb" text-anchor="middle">23.3 ft</text>
<text x="616.98" y="153.67" class="lb" text-anchor="middle">7.11 m</text>
<circle cx="636.74" cy="352.65" r="1.9" fill="#000"/>
<text x="636.74" y="362.45" class="lb" text-anchor="middle">1.51 m</text>
<text x="636.74" y="372.95" class="lb" text-anchor="middle">5.0 ft</text>
<text x="636.74" y="381.85" class="lb" text-anchor="middle">3:57 pm</text>
<circle cx="656.40" cy="167.14" r="1.9" fill="#000"/>
<text x="656.40" y="145.74" class="lb" text-anchor="middle">10:07 pm</text>
<text x="656.40" y="153.54" class="lb" text-anchor="middle">22.4 ft</text>
<text x="656.40" y="163.44" class="lb" text-anchor="middle">6.83 m</text>
<circle cx="676.11" cy="343.58" r="1.9" fill="#000"/>
<text x="676.11" y="353.38" class="lb" text-anchor="middle">1.77 m</text>
<text x="676.11" y="363.88" class="lb" text-anchor="middle">5.8 ft</text>
<text x="676.11" y="372.78" class="lb" text-anchor="middle">4:18 am</text>
<circle cx="695.92" cy="172.37" r="1.9" fill="#000"/>
<text x="695.92" y="150.97" class="lb" text-anchor="middle">10:31 am</text>
<text x="695.92" y="158.77" class="lb" text-anchor="middle">21.9 ft</text>
<text x="695.92" y="168.67" class="lb" text-anchor="middle">6.68 m</text>
<path d="M391.8,339.9 L401,339.9 L396.4,347.8 Z" fill="#e2da44" stroke="#7d6c22" stroke-width="0.8" stroke-linejoin="round"/>
<polygon points="72.62,467.60 74.38,472.37 79.47,472.58 75.47,475.73 76.85,480.62 72.62,477.80 68.39,480.62 69.77,475.73 65.77,472.58 70.86,472.37" fill="#9a8a3a" stroke="#9a8240" stroke-width="0.4"/>
<polygon points="72.62,469.90 77.28,473.29 75.50,478.76 69.74,478.76 67.96,473.29" fill="#bfba4a" stroke="#8c6420" stroke-width="1.0" stroke-linejoin="round"/>
<text x="79.52" y="478.30" class="lb">7:02am</text>
<polygon points="149.17,467.60 150.94,472.37 156.02,472.58 152.03,475.73 153.40,480.62 149.17,477.80 144.94,480.62 146.32,475.73 142.32,472.58 147.41,472.37" fill="#9a8a3a" stroke="#9a8240" stroke-width="0.4"/>
<polygon points="149.17,469.90 153.83,473.29 152.05,478.76 146.29,478.76 144.51,473.29" fill="#bfba4a" stroke="#8c6420" stroke-width="1.0" stroke-linejoin="round"/>
<text x="156.07" y="478.30" class="lb">7:03am</text>
<polygon points="225.78,467.60 227.54,472.37 232.63,472.58 228.63,475.73 230.01,480.62 225.78,477.80 221.55,480.62 222.92,475.73 218.93,472.58 224.01,472.37" fill="#9a8a3a" stroke="#9a8240" stroke-width="0.4"/>
<polygon points="225.78,469.90 230.44,473.29 228.66,478.76 222.90,478.76 221.12,473.29" fill="#bfba4a" stroke="#8c6420" stroke-width="1.0" stroke-linejoin="round"/>
<text x="232.68" y="478.30" class="lb">7:05am</text>
<polygon points="302.38,467.60 304.15,472.37 309.23,472.58 305.24,475.73 306.62,480.62 302.38,477.80 298.15,480.62 299.53,475.73 295.54,472.58 300.62,472.37" fill="#9a8a3a" stroke="#9a8240" stroke-width="0.4"/>
<polygon points="302.38,469.90 307.04,473.29 305.26,478.76 299.50,478.76 297.72,473.29" fill="#bfba4a" stroke="#8c6420" stroke-width="1.0" stroke-linejoin="round"/>
<text x="309.28" y="478.30" class="lb">7:07am</text>
<polygon points="378.94,467.60 380.70,472.37 385.79,472.58 381.79,475.73 383.17,480.62 378.94,477.80 374.71,480.62 376.08,475.73 372.09,472.58 377.17,472.37" fill="#9a8a3a" stroke="#9a8240" stroke-width="0.4"/>
<polygon points="378.94,469.90 383.60,473.29 381.82,478.76 376.06,478.76 374.28,473.29" fill="#bfba4a" stroke="#8c6420" stroke-width="1.0" stroke-linejoin="round"/>
<text x="385.84" y="478.30" class="lb">7:08am</text>
<polygon points="455.54,467.60 457.31,472.37 462.39,472.58 458.40,475.73 459.78,480.62 455.54,477.80 451.31,480.62 452.69,475.73 448.70,472.58 453.78,472.37" fill="#9a8a3a" stroke="#9a8240" stroke-width="0.4"/>
<polygon points="455.54,469.90 460.20,473.29 458.42,478.76 452.66,478.76 450.88,473.29" fill="#bfba4a" stroke="#8c6420" stroke-width="1.0" stroke-linejoin="round"/>
<text x="462.44" y="478.30" class="lb">7:10am</text>
<polygon points="532.10,467.60 533.86,472.37 538.94,472.58 534.95,475.73 536.33,480.62 532.10,477.80 527.86,480.62 529.24,475.73 525.25,472.58 530.33,472.37" fill="#9a8a3a" stroke="#9a8240" stroke-width="0.4"/>
<polygon points="532.10,469.90 536.76,473.29 534.98,478.76 529.22,478.76 527.44,473.29" fill="#bfba4a" stroke="#8c6420" stroke-width="1.0" stroke-linejoin="round"/>
<text x="539.00" y="478.30" class="lb">7:11am</text>
<polygon points="608.70,467.60 610.47,472.37 615.55,472.58 611.56,475.73 612.94,480.62 608.70,477.80 604.47,480.62 605.85,475.73 601.86,472.58 606.94,472.37" fill="#9a8a3a" stroke="#9a8240" stroke-width="0.4"/>
<polygon points="608.70,469.90 613.36,473.29 611.58,478.76 605.82,478.76 604.04,473.29" fill="#bfba4a" stroke="#8c6420" stroke-width="1.0" stroke-linejoin="round"/>
<text x="615.60" y="478.30" class="lb">7:13am</text>
<polygon points="685.31,467.60 687.07,472.37 692.16,472.58 688.16,475.73 689.54,480.62 685.31,477.80 681.08,480.62 682.46,475.73 678.46,472.58 683.55,472.37" fill="#9a8a3a" stroke="#9a8240" stroke-width="0.4"/>
<polygon points="685.31,469.90 689.97,473.29 688.19,478.76 682.43,478.76 680.65,473.29" fill="#bfba4a" stroke="#8c6420" stroke-width="1.0" stroke-linejoin="round"/>
<text x="692.21" y="478.30" class="lb">7:15am</text>
<polygon points="111.56,481.20 113.32,485.97 118.41,486.18 114.41,489.33 115.79,494.22 111.56,491.40 107.33,494.22 108.71,489.33 104.71,486.18 109.80,485.97" fill="#8f7a34" stroke="#8f7a40" stroke-width="0.4"/>
<polygon points="111.56,483.50 116.22,486.89 114.44,492.36 108.68,492.36 106.90,486.89" fill="#7f7424" stroke="#7a6a22" stroke-width="1.0" stroke-linejoin="round"/>
<circle cx="111.56" cy="488.60" r="3.5" fill="#e28a3a" stroke="#e23a2a" stroke-width="1.2" stroke-dasharray="1.6 1.15"/>
<text x="118.46" y="491.90" class="lb">7:15pm</text>
<polygon points="187.95,481.20 189.72,485.97 194.80,486.18 190.81,489.33 192.19,494.22 187.95,491.40 183.72,494.22 185.10,489.33 181.11,486.18 186.19,485.97" fill="#8f7a34" stroke="#8f7a40" stroke-width="0.4"/>
<polygon points="187.95,483.50 192.61,486.89 190.83,492.36 185.07,492.36 183.29,486.89" fill="#7f7424" stroke="#7a6a22" stroke-width="1.0" stroke-linejoin="round"/>
<circle cx="187.95" cy="488.60" r="3.5" fill="#e28a3a" stroke="#e23a2a" stroke-width="1.2" stroke-dasharray="1.6 1.15"/>
<text x="194.85" y="491.90" class="lb">7:13pm</text>
<polygon points="264.35,481.20 266.11,485.97 271.19,486.18 267.20,489.33 268.58,494.22 264.35,491.40 260.11,494.22 261.49,489.33 257.50,486.18 262.58,485.97" fill="#8f7a34" stroke="#8f7a40" stroke-width="0.4"/>
<polygon points="264.35,483.50 269.01,486.89 267.23,492.36 261.47,492.36 259.69,486.89" fill="#7f7424" stroke="#7a6a22" stroke-width="1.0" stroke-linejoin="round"/>
<circle cx="264.35" cy="488.60" r="3.5" fill="#e28a3a" stroke="#e23a2a" stroke-width="1.2" stroke-dasharray="1.6 1.15"/>
<text x="271.25" y="491.90" class="lb">7:11pm</text>
<polygon points="340.74,481.20 342.50,485.97 347.59,486.18 343.59,489.33 344.97,494.22 340.74,491.40 336.51,494.22 337.89,489.33 333.89,486.18 338.98,485.97" fill="#8f7a34" stroke="#8f7a40" stroke-width="0.4"/>
<polygon points="340.74,483.50 345.40,486.89 343.62,492.36 337.86,492.36 336.08,486.89" fill="#7f7424" stroke="#7a6a22" stroke-width="1.0" stroke-linejoin="round"/>
<circle cx="340.74" cy="488.60" r="3.5" fill="#e28a3a" stroke="#e23a2a" stroke-width="1.2" stroke-dasharray="1.6 1.15"/>
<text x="347.64" y="491.90" class="lb">7:09pm</text>
<polygon points="417.08,481.20 418.84,485.97 423.93,486.18 419.93,489.33 421.31,494.22 417.08,491.40 412.85,494.22 414.23,489.33 410.23,486.18 415.32,485.97" fill="#8f7a34" stroke="#8f7a40" stroke-width="0.4"/>
<polygon points="417.08,483.50 421.74,486.89 419.96,492.36 414.20,492.36 412.42,486.89" fill="#7f7424" stroke="#7a6a22" stroke-width="1.0" stroke-linejoin="round"/>
<circle cx="417.08" cy="488.60" r="3.5" fill="#e28a3a" stroke="#e23a2a" stroke-width="1.2" stroke-dasharray="1.6 1.15"/>
<text x="423.98" y="491.90" class="lb">7:06pm</text>
<polygon points="493.47,481.20 495.24,485.97 500.32,486.18 496.33,489.33 497.71,494.22 493.47,491.40 489.24,494.22 490.62,489.33 486.63,486.18 491.71,485.97" fill="#8f7a34" stroke="#8f7a40" stroke-width="0.4"/>
<polygon points="493.47,483.50 498.14,486.89 496.36,492.36 490.59,492.36 488.81,486.89" fill="#7f7424" stroke="#7a6a22" stroke-width="1.0" stroke-linejoin="round"/>
<circle cx="493.47" cy="488.60" r="3.5" fill="#e28a3a" stroke="#e23a2a" stroke-width="1.2" stroke-dasharray="1.6 1.15"/>
<text x="500.37" y="491.90" class="lb">7:04pm</text>
<polygon points="569.87,481.20 571.63,485.97 576.72,486.18 572.72,489.33 574.10,494.22 569.87,491.40 565.64,494.22 567.02,489.33 563.02,486.18 568.11,485.97" fill="#8f7a34" stroke="#8f7a40" stroke-width="0.4"/>
<polygon points="569.87,483.50 574.53,486.89 572.75,492.36 566.99,492.36 565.21,486.89" fill="#7f7424" stroke="#7a6a22" stroke-width="1.0" stroke-linejoin="round"/>
<circle cx="569.87" cy="488.60" r="3.5" fill="#e28a3a" stroke="#e23a2a" stroke-width="1.2" stroke-dasharray="1.6 1.15"/>
<text x="576.77" y="491.90" class="lb">7:02pm</text>
<polygon points="646.21,481.20 647.97,485.97 653.06,486.18 649.06,489.33 650.44,494.22 646.21,491.40 641.98,494.22 643.36,489.33 639.36,486.18 644.45,485.97" fill="#8f7a34" stroke="#8f7a40" stroke-width="0.4"/>
<polygon points="646.21,483.50 650.87,486.89 649.09,492.36 643.33,492.36 641.55,486.89" fill="#7f7424" stroke="#7a6a22" stroke-width="1.0" stroke-linejoin="round"/>
<circle cx="646.21" cy="488.60" r="3.5" fill="#e28a3a" stroke="#e23a2a" stroke-width="1.2" stroke-dasharray="1.6 1.15"/>
<text x="653.11" y="491.90" class="lb">6:59pm</text>
<circle cx="109.16" cy="502.00" r="5.2" fill="#ffffc4" stroke="#a39c92" stroke-width="0.9"/>
<text x="115.96" y="505.50" class="lb">6:28pm</text>
<circle cx="186.46" cy="502.00" r="5.2" fill="#ffffc4" stroke="#a39c92" stroke-width="0.9"/>
<text x="193.26" y="505.50" class="lb">6:43pm</text>
<circle cx="263.86" cy="502.00" r="5.2" fill="#ffffc4" stroke="#a39c92" stroke-width="0.9"/>
<text x="270.66" y="505.50" class="lb">7:00pm</text>
<circle cx="341.37" cy="502.00" r="5.2" fill="#ffffc4" stroke="#a39c92" stroke-width="0.9"/>
<text x="348.17" y="505.50" class="lb">7:19pm</text>
<circle cx="419.15" cy="502.00" r="5.2" fill="#ffffc4" stroke="#a39c92" stroke-width="0.9"/>
<text x="425.95" y="505.50" class="lb">7:43pm</text>
<circle cx="497.24" cy="502.00" r="5.2" fill="#ffffc4" stroke="#a39c92" stroke-width="0.9"/>
<text x="504.04" y="505.50" class="lb">8:13pm</text>
<circle cx="575.81" cy="502.00" r="5.2" fill="#ffffc4" stroke="#a39c92" stroke-width="0.9"/>
<text x="582.61" y="505.50" class="lb">8:52pm</text>
<circle cx="655.02" cy="502.00" r="5.2" fill="#ffffc4" stroke="#a39c92" stroke-width="0.9"/>
<text x="661.82" y="505.50" class="lb">9:43pm</text>
<circle cx="149.96" cy="515.70" r="5.2" fill="#c6c5bb" stroke="#8e8b84" stroke-width="0.9"/>
<text x="156.76" y="519.20" class="lb">7:16am</text>
<circle cx="230.08" cy="515.70" r="5.2" fill="#c6c5bb" stroke="#8e8b84" stroke-width="0.9"/>
<text x="236.88" y="519.20" class="lb">8:24am</text>
<circle cx="310.24" cy="515.70" r="5.2" fill="#c6c5bb" stroke="#8e8b84" stroke-width="0.9"/>
<text x="317.04" y="519.20" class="lb">9:33am</text>
<circle cx="390.46" cy="515.70" r="5.2" fill="#c6c5bb" stroke="#8e8b84" stroke-width="0.9"/>
<text x="397.26" y="519.20" class="lb">10:43am</text>
<circle cx="470.68" cy="515.70" r="5.2" fill="#c6c5bb" stroke="#8e8b84" stroke-width="0.9"/>
<text x="477.48" y="519.20" class="lb">11:53am</text>
<circle cx="550.74" cy="515.70" r="5.2" fill="#c6c5bb" stroke="#8e8b84" stroke-width="0.9"/>
<text x="557.54" y="519.20" class="lb">1:00pm</text>
<circle cx="630.53" cy="515.70" r="5.2" fill="#c6c5bb" stroke="#8e8b84" stroke-width="0.9"/>
<text x="637.33" y="519.20" class="lb">2:02pm</text>
<text x="114.6" y="533.0" class="lb">Full Moon | 10:17am</text>
<text x="46.2" y="478.80" class="rl" text-anchor="end">Sunrise</text>
<text x="746.4" y="478.80" class="rl">Sunrise</text>
<text x="46.2" y="492.40" class="rl" text-anchor="end">Sunset</text>
<text x="746.4" y="492.40" class="rl">Sunset</text>
<text x="46.2" y="506.00" class="rl" text-anchor="end">Moonrise</text>
<text x="746.4" y="506.00" class="rl">Moonrise</text>
<text x="46.2" y="519.70" class="rl" text-anchor="end">Moonset</text>
<text x="746.4" y="519.70" class="rl">Moonset</text>
</svg>
</body></html>
